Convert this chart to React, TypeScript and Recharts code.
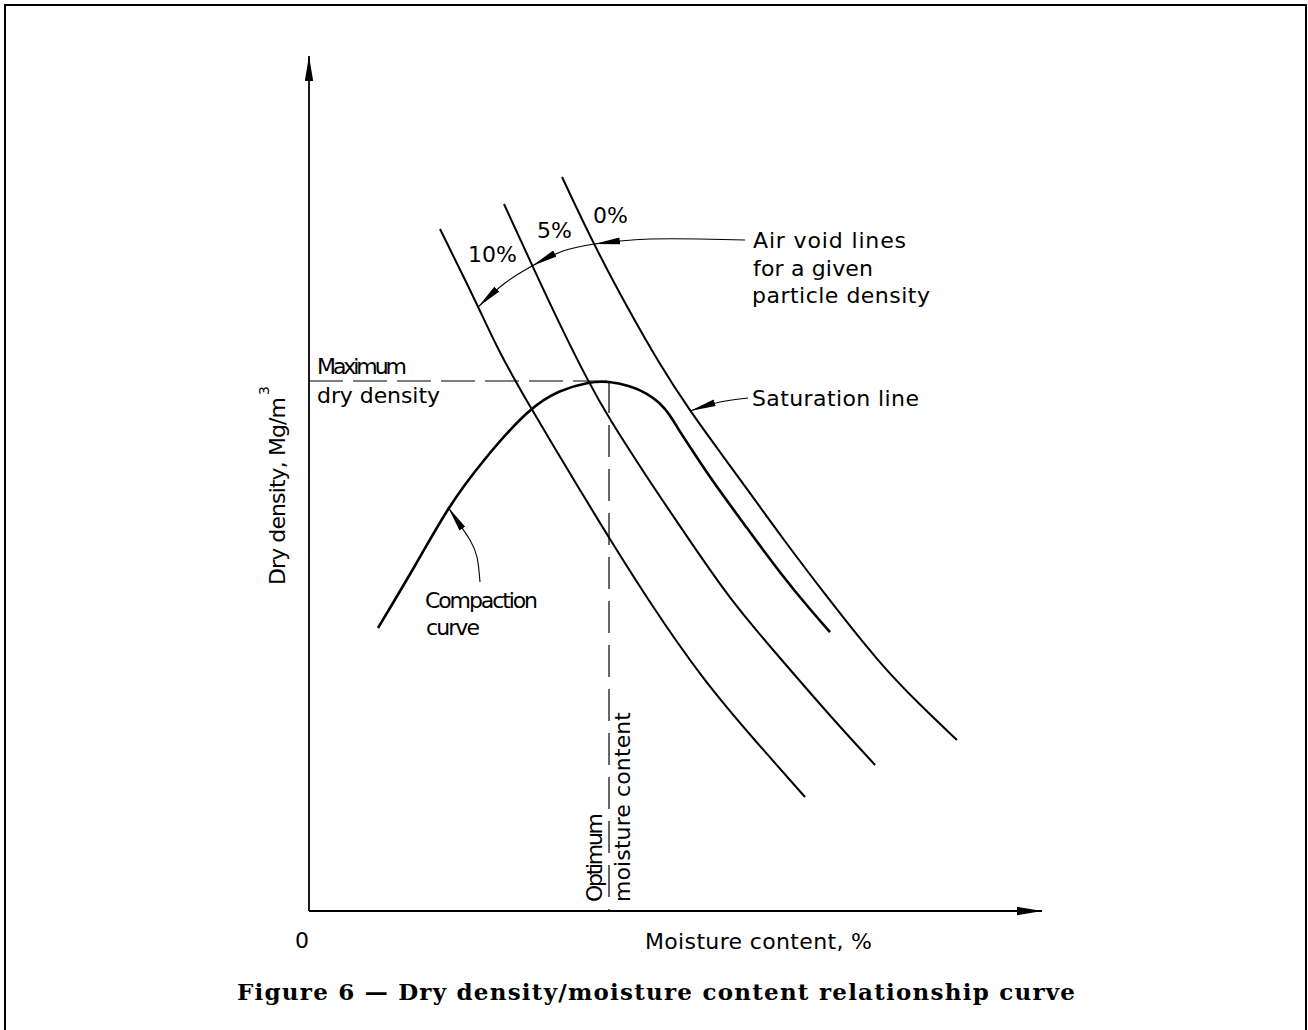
import React from 'react';
import { ComposedChart, Line, XAxis, YAxis } from 'recharts';

type Pt = { x: number; y: number };

// Domain of the (unscaled) moisture content / dry density axes
const X_DOMAIN: [number, number] = [0, 100];
const Y_DOMAIN: [number, number] = [0, 100];

// Compaction curve (continues along the saturation side)
const compactionCurve: Pt[] = [
  { x: 9.41, y: 33.1 },
  { x: 14.73, y: 40.7 },
  { x: 18.96, y: 47.25 },
  { x: 23.74, y: 52.75 },
  { x: 30.15, y: 58.95 },
  { x: 34.24, y: 60.94 },
  { x: 38.06, y: 61.87 },
  { x: 40.93, y: 61.99 },
  { x: 43.79, y: 61.4 },
  { x: 46.11, y: 60.58 },
  { x: 47.89, y: 59.42 },
  { x: 49.25, y: 58.01 },
  { x: 50.2, y: 56.61 },
  { x: 51.98, y: 54.27 },
  { x: 55.12, y: 50.18 },
  { x: 59.75, y: 44.8 },
  { x: 64.26, y: 39.53 },
  { x: 68.76, y: 34.85 },
  { x: 71.08, y: 32.63 },
];

// Air void lines
const airVoid0: Pt[] = [
  { x: 34.52, y: 85.85 },
  { x: 38.74, y: 78.13 },
  { x: 43.38, y: 70.64 },
  { x: 47.89, y: 63.86 },
  { x: 51.98, y: 58.48 },
  { x: 56.07, y: 53.68 },
  { x: 60.16, y: 48.89 },
  { x: 64.26, y: 43.98 },
  { x: 71.08, y: 36.26 },
  { x: 77.9, y: 28.89 },
  { x: 83.36, y: 24.09 },
  { x: 88.4, y: 20.0 },
];
const airVoid5: Pt[] = [
  { x: 26.6, y: 82.69 },
  { x: 30.42, y: 75.56 },
  { x: 34.24, y: 68.54 },
  { x: 38.06, y: 61.99 },
  { x: 40.79, y: 57.78 },
  { x: 46.52, y: 50.18 },
  { x: 50.61, y: 45.03 },
  { x: 57.44, y: 36.37 },
  { x: 64.26, y: 29.59 },
  { x: 71.08, y: 22.81 },
  { x: 77.22, y: 17.08 },
];
const airVoid10: Pt[] = [
  { x: 17.87, y: 79.77 },
  { x: 23.06, y: 70.76 },
  { x: 25.78, y: 65.61 },
  { x: 30.15, y: 58.95 },
  { x: 36.97, y: 49.24 },
  { x: 40.93, y: 43.63 },
  { x: 46.52, y: 36.02 },
  { x: 53.75, y: 27.02 },
  { x: 61.12, y: 19.65 },
  { x: 67.67, y: 13.33 },
];

// Guides for maximum dry density / optimum moisture content
const maxDryDensityGuide: Pt[] = [
  { x: 0, y: 61.99 },
  { x: 40.93, y: 61.99 },
];
const optimumMoistureGuide: Pt[] = [
  { x: 40.93, y: 61.99 },
  { x: 40.93, y: 0 },
];

// Axes with arrows
const xAxisArrow: Pt[] = [
  { x: 0, y: 0 },
  { x: 100, y: 0 },
];
const yAxisArrow: Pt[] = [
  { x: 0, y: 0 },
  { x: 0, y: 100 },
];

// Leader arrows
const airVoidLeaderA: Pt[] = [
  { x: 59.48, y: 78.48 },
  { x: 53.34, y: 78.6 },
  { x: 46.52, y: 78.6 },
  { x: 42.43, y: 78.36 },
  { x: 38.88, y: 78.01 },
];
const airVoidLeaderB: Pt[] = [
  { x: 38.88, y: 78.01 },
  { x: 34.65, y: 77.19 },
  { x: 30.42, y: 75.44 },
];
const airVoidLeaderC: Pt[] = [
  { x: 30.42, y: 75.44 },
  { x: 26.74, y: 73.45 },
  { x: 23.06, y: 70.64 },
];
const saturationLeader: Pt[] = [
  { x: 59.89, y: 60.0 },
  { x: 56.07, y: 59.53 },
  { x: 51.98, y: 58.48 },
];
const compactionLeader: Pt[] = [
  { x: 23.33, y: 38.48 },
  { x: 22.92, y: 41.4 },
  { x: 21.96, y: 43.39 },
  { x: 20.6, y: 45.15 },
  { x: 18.96, y: 47.25 },
];

// Text labels
type Lbl = { text: string; x: number; y: number; w?: number; rotate?: boolean };
const textLabels: Lbl[] = [
  { text: 'Maximum', x: 317, y: 374, w: 90 },
  { text: 'dry density', x: 317, y: 403, w: 123 },
  { text: '10%', x: 468, y: 262 },
  { text: '5%', x: 537, y: 238 },
  { text: '0%', x: 593, y: 223 },
  { text: 'Air void lines', x: 753, y: 248, w: 153 },
  { text: 'for a given', x: 753, y: 276, w: 120 },
  { text: 'particle density', x: 752, y: 303, w: 178 },
  { text: 'Saturation line', x: 752, y: 406, w: 167 },
  { text: 'Compaction', x: 425, y: 608, w: 113 },
  { text: 'curve', x: 426, y: 635, w: 54 },
  { text: 'Optimum', x: 602, y: 902, w: 89, rotate: true },
  { text: 'moisture content', x: 630, y: 902, w: 190, rotate: true },
  { text: 'Dry density, Mg/m', x: 285, y: 585, w: 188, rotate: true },
  { text: 'Moisture content, %', x: 645, y: 949, w: 227 },
  { text: '0', x: 295, y: 948 },
];
const TITLE = 'Figure 6 \u2014 Dry density/moisture content relationship curve';

const FONT = '"DejaVu Sans", sans-serif';
const INK = '#000';

const common = {
  dataKey: 'y',
  dot: false,
  activeDot: false,
  isAnimationActive: false,
  legendType: 'none' as const,
  stroke: INK,
  fill: 'none',
};

export default function App() {
  return (
    <div
      style={{
        position: 'absolute',
        left: 0,
        top: 0,
        width: 1308,
        height: 1030,
        background: '#fff',
        overflow: 'hidden',
      }}
    >
      <div
        style={{
          position: 'absolute',
          left: 4,
          top: 4,
          width: 1303,
          height: 1026,
          borderTop: '2px solid #000',
          borderLeft: '2px solid #000',
          borderRight: '2px solid #000',
          boxSizing: 'border-box',
        }}
      />
      <div style={{ position: 'absolute', left: 0, top: 0 }}>
        <ComposedChart
          width={1308}
          height={1030}
          margin={{ top: 56, left: 309, right: 266, bottom: 119 }}
        >
          <XAxis type="number" dataKey="x" domain={X_DOMAIN} hide />
          <YAxis type="number" dataKey="y" domain={Y_DOMAIN} hide />

          <Line {...common} name="x-axis" data={xAxisArrow} type="linear" strokeWidth={1.8} markerEnd="url(#arrowAxis)" />
          <Line {...common} name="y-axis" data={yAxisArrow} type="linear" strokeWidth={1.8} markerEnd="url(#arrowAxis)" />

          <Line {...common} name="max dry density" data={maxDryDensityGuide} type="linear" strokeWidth={1.2} strokeDasharray="34 10" />
          <Line {...common} name="optimum moisture" data={optimumMoistureGuide} type="linear" strokeWidth={1.2} strokeDasharray="32 12" />

          <Line {...common} name="10% air voids" data={airVoid10} type="basis" strokeWidth={2} />
          <Line {...common} name="5% air voids" data={airVoid5} type="basis" strokeWidth={2} />
          <Line {...common} name="0% air voids" data={airVoid0} type="basis" strokeWidth={2} />
          <Line {...common} name="compaction curve" data={compactionCurve} type="basis" strokeWidth={2.6} />

          <Line {...common} name="leader A" data={airVoidLeaderA} type="natural" strokeWidth={1.1} markerEnd="url(#arrowNote)" />
          <Line {...common} name="leader B" data={airVoidLeaderB} type="natural" strokeWidth={1.1} markerEnd="url(#arrowNote)" />
          <Line {...common} name="leader C" data={airVoidLeaderC} type="natural" strokeWidth={1.1} markerEnd="url(#arrowNote)" />
          <Line {...common} name="saturation leader" data={saturationLeader} type="natural" strokeWidth={1.1} markerEnd="url(#arrowNote)" />
          <Line {...common} name="compaction leader" data={compactionLeader} type="natural" strokeWidth={1.1} markerEnd="url(#arrowNote)" />
        </ComposedChart>
      </div>
      <svg
        width={1308}
        height={1030}
        style={{ position: 'absolute', left: 0, top: 0, pointerEvents: 'none' }}
      >
        <defs>
          <marker
            id="arrowAxis"
            markerUnits="userSpaceOnUse"
            markerWidth={25}
            markerHeight={9}
            viewBox="0 0 25 9"
            refX={25}
            refY={4.5}
            orient="auto"
          >
            <path d="M0,0.3 L25,4.5 L0,8.7 Z" fill={INK} />
          </marker>
          <marker
            id="arrowNote"
            markerUnits="userSpaceOnUse"
            markerWidth={26}
            markerHeight={8}
            viewBox="0 0 26 8"
            refX={26}
            refY={4}
            orient="auto"
          >
            <path d="M0,0.6 L26,4 L0,7.4 Z" fill={INK} />
          </marker>
        </defs>
        {textLabels.map((l) => (
          <text
            key={l.text}
            x={l.x}
            y={l.y}
            fontFamily={FONT}
            fontSize={22}
            fill={INK}
            textLength={l.w}
            lengthAdjust={l.w ? 'spacing' : undefined}
            transform={l.rotate ? `rotate(-90 ${l.x} ${l.y})` : undefined}
          >
            {l.text}
          </text>
        ))}
        <text
          x={269}
          y={395}
          fontFamily={FONT}
          fontSize={14}
          fill={INK}
          transform="rotate(-90 269 395)"
        >
          3
        </text>
        <text
          x={656}
          y={1000}
          textAnchor="middle"
          fontFamily='"DejaVu Serif", serif'
          fontWeight="bold"
          fontSize={23}
          fill={INK}
          textLength={838}
          lengthAdjust="spacing"
        >
          {TITLE}
        </text>
      </svg>
    </div>
  );
}
